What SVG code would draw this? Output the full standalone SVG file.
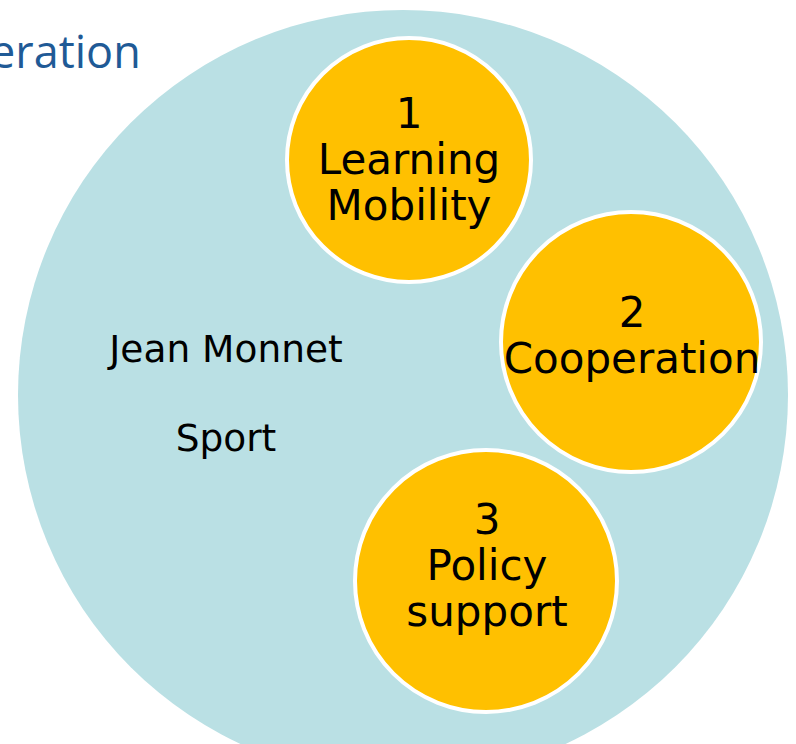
<svg xmlns="http://www.w3.org/2000/svg" width="796" height="744" viewBox="0 0 796 744">
<style>
.big{fill:#BAE0E4}
.sub{fill:#FFC000;stroke:#FFFFFF;stroke-width:4}
.t{font-family:"DejaVu Sans",Verdana,sans-serif;fill:#000;text-anchor:middle}
.l{font-size:42px}
.m{font-size:37.5px}
.title{font-family:"Open Sans","Noto Sans",sans-serif;font-size:45px;fill:#1F5A96}
</style>
<rect width="796" height="744" fill="#FFFFFF"/>
<text class="title" x="-10" y="68">eration</text>
<g id="outer">
<circle class="big" cx="403" cy="395" r="385"/>
<text class="t m" x="226" y="362">Jean Monnet</text>
<text class="t m" x="226" y="451">Sport</text>
</g>
<g id="connectors"></g>
<g id="node1">
<circle class="sub" cx="409" cy="160" r="122"/>
<text class="t l" x="409" y="128">1</text>
<text class="t l" x="409" y="174">Learning</text>
<text class="t l" x="409" y="220">Mobility</text>
</g>
<g id="node2">
<circle class="sub" cx="631" cy="342" r="130"/>
<text class="t l" x="632" y="327">2</text>
<text class="t l" x="632" y="373">Cooperation</text>
</g>
<g id="node3">
<circle class="sub" cx="486" cy="581" r="131"/>
<text class="t l" x="487" y="534">3</text>
<text class="t l" x="487" y="580">Policy</text>
<text class="t l" x="487" y="626">support</text>
</g>
</svg>
